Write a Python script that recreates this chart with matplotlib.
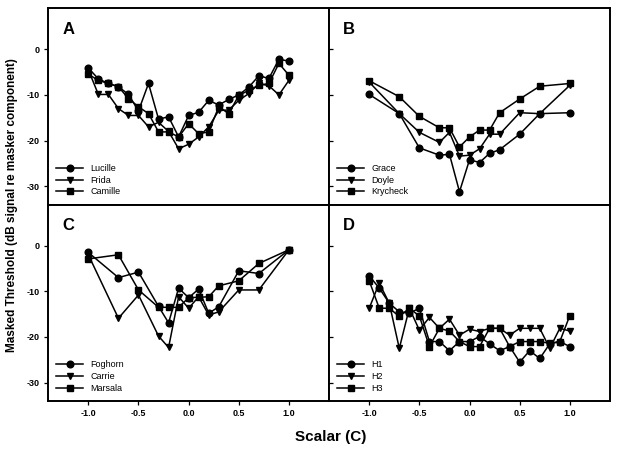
import numpy as np
import matplotlib
matplotlib.use("Agg")
import matplotlib.pyplot as plt

plt.rcParams["font.family"] = ["Liberation Sans", "DejaVu Sans"]

# Panel A (0.1 steps)
x_a = [-1.0, -0.9, -0.8, -0.7, -0.6, -0.5, -0.4, -0.3, -0.2, -0.1, 0.0,
       0.1, 0.2, 0.3, 0.4, 0.5, 0.6, 0.7, 0.8, 0.9, 1.0]
lucille = [-4.1, -6.5, -7.5, -8.2, -9.9, -13.5, -7.5, -15.3, -14.8, -19.2, -14.5,
           -13.8, -11.2, -12.2, -11.0, -10.0, -8.3, -5.8, -6.4, -2.2, -2.6]
frida = [-4.5, -9.9, -9.9, -13.0, -14.5, -14.5, -17.0, -16.0, -18.0, -21.8, -20.8,
         -19.2, -17.0, -13.4, -13.3, -11.2, -9.7, -7.5, -8.0, -10.0, -6.8]
camille = [-5.5, -6.8, -7.5, -8.2, -10.8, -12.6, -14.1, -18.1, -18.1, -19.2, -16.3,
           -18.5, -18.1, -12.6, -14.1, -10.1, -9.0, -7.9, -7.5, -3.1, -5.7]

# Panel B
x_b = [-1.0, -0.7, -0.5, -0.3, -0.2, -0.1, 0.0, 0.1, 0.2, 0.3, 0.5, 0.7, 1.0]
grace = [-9.9, -14.1, -21.6, -23.2, -23.0, -31.2, -24.2, -24.8, -22.8, -22.0, -18.6, -14.1, -13.9]
doyle = [-7.2, -14.1, -18.2, -20.4, -18.2, -23.4, -23.2, -21.8, -18.6, -18.6, -13.9, -14.1, -7.9]
krycheck = [-6.9, -10.4, -14.7, -17.2, -17.2, -21.4, -19.2, -17.7, -17.7, -13.9, -10.9, -8.1, -7.5]

# Panel C
x_c = [-1.0, -0.7, -0.5, -0.3, -0.2, -0.1, 0.0, 0.1, 0.2, 0.3, 0.5, 0.7, 1.0]
foghorn = [-1.5, -7.0, -5.8, -13.3, -16.9, -9.3, -11.4, -9.5, -14.8, -13.4, -5.5, -6.1, -0.9]
carrie = [-2.0, -15.9, -10.8, -19.8, -22.3, -11.2, -13.7, -11.2, -15.2, -14.5, -9.7, -9.7, -0.9]
marsala = [-2.9, -2.0, -9.7, -13.5, -13.5, -13.5, -11.4, -11.3, -11.2, -8.8, -7.7, -3.9, -0.9]

# Panel D (0.1 steps)
x_d = x_a
h1 = [-6.6, -9.3, -12.6, -14.5, -14.8, -13.7, -21.0, -21.0, -23.0, -21.0, -21.0,
      -19.9, -21.5, -23.0, -22.1, -25.5, -23.0, -24.7, -21.5, -21.0, -22.1]
h2 = [-13.7, -8.2, -12.6, -22.5, -13.7, -18.5, -15.7, -18.1, -16.1, -19.6, -18.3,
      -18.8, -18.1, -18.1, -19.6, -18.1, -18.1, -18.1, -22.5, -18.1, -18.7]
h3 = [-7.7, -13.7, -13.7, -15.5, -13.7, -15.4, -22.1, -18.1, -18.7, -21.0, -22.1,
      -22.1, -18.1, -18.1, -22.1, -21.0, -21.0, -21.0, -21.4, -21.0, -15.3]

panels = [
    ("A", x_a, [("Lucille", lucille), ("Frida", frida), ("Camille", camille)]),
    ("B", x_b, [("Grace", grace), ("Doyle", doyle), ("Krycheck", krycheck)]),
    ("C", x_c, [("Foghorn", foghorn), ("Carrie", carrie), ("Marsala", marsala)]),
    ("D", x_d, [("H1", h1), ("H2", h2), ("H3", h3)]),
]
markers = ["o", "v", "s"]
x_ticks = [-1.0, -0.5, 0.0, 0.5, 1.0]
y_ticks = [0, -10, -20, -30]

fig = plt.figure(figsize=(6.18, 4.51), dpi=100)
gs = fig.add_gridspec(2, 2, left=0.078, right=0.987, top=0.982, bottom=0.111,
                      wspace=0, hspace=0)

for i, (letter, xs, series) in enumerate(panels):
    ax = fig.add_subplot(gs[i // 2, i % 2])
    for (name, ys), m in zip(series, markers):
        ax.plot(xs, ys, color="black", lw=1.1, marker=m, ms=4.8, label=name)
    ax.set_xlim(-1.4, 1.4)
    ax.set_ylim(-34, 9)
    ax.set_xticks(x_ticks)
    ax.set_yticks(y_ticks)
    for s in ax.spines.values():
        s.set_linewidth(1.4)
    ax.tick_params(length=3, width=0.9, labelsize=6.5, pad=3)
    if i % 2 == 1:
        ax.tick_params(axis="y", labelleft=False, direction="in")
    if i < 2:
        ax.tick_params(axis="x", labelbottom=False)
    else:
        ax.set_xticklabels(["-1.0", "-0.5", "0.0", "0.5", "1.0"], fontweight="bold")
    if i % 2 == 0:
        ax.set_yticklabels([str(v) for v in y_ticks], fontweight="bold")
    ax.text(0.05, 0.93, letter, transform=ax.transAxes, fontsize=12,
            fontweight="bold", va="top", ha="left")
    ax.legend(loc="lower left", frameon=False, fontsize=6.5, handlelength=3.0,
              labelspacing=0.3, borderaxespad=0.5, handletextpad=0.8)

fig.text(0.02, 0.546, "Masked Threshold (dB signal re masker component)",
         rotation=90, ha="center", va="center", fontsize=8.5, fontweight="bold")
fig.text(0.535, 0.03, "Scalar (C)", ha="center", va="center",
         fontsize=11, fontweight="bold")

fig.savefig("out.png", dpi=100)
